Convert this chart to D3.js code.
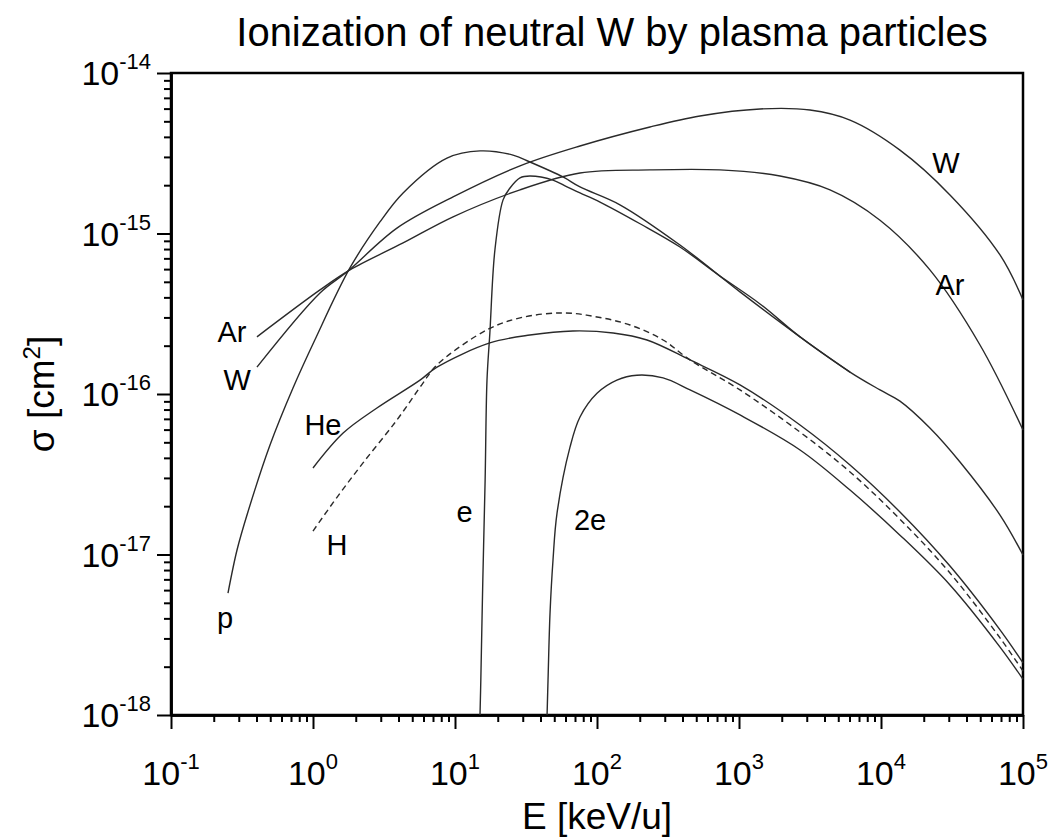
<!DOCTYPE html>
<html>
<head>
<meta charset="utf-8">
<script src="https://cdn.jsdelivr.net/npm/d3@7"></script>
<style>
  html, body { margin: 0; padding: 0; background: #fff; overflow: hidden; }
  svg { display: block; }
  text { font-family: "Liberation Sans", Arial, sans-serif; fill: #000; }
</style>
</head>
<body>
<div id="chart"></div>
<script>
// energy [keV/u] and cross section [cm^2] for each projectile
const pE = [0.252, 0.292, 0.348, 0.498, 0.723, 1.03, 1.82, 2.96, 4.31, 8.78, 15.0, 25.6, 33.7, 57.6, 75.9, 145, 384, 1016, 2690, 6050, 9840, 1.36e4, 2.21e4, 3.6e4, 6.89e4, 1e5];
const pS = [5.75e-18, 1.07e-17, 1.84e-17, 4.81e-17, 1.09e-16, 2.17e-16, 6.1e-16, 1.18e-15, 1.79e-15, 2.95e-15, 3.27e-15, 3.08e-15, 2.79e-15, 2.25e-15, 1.95e-15, 1.51e-15, 8.48e-16, 4.33e-16, 2.27e-16, 1.37e-16, 1.06e-16, 9.03e-17, 6.14e-17, 3.77e-17, 1.76e-17, 9.93e-18];

const eE = [15.0, 15.2, 15.7, 16.3, 16.8, 17.6, 19.1, 21.8, 24.4, 28.7, 33.7, 49.0, 61.5, 75.9, 105, 201, 384, 735, 1406, 2690, 6050];
const eS = [1e-18, 1.65e-18, 6.93e-18, 2.91e-17, 1.22e-16, 2.4e-16, 7.89e-16, 1.62e-15, 1.92e-15, 2.22e-15, 2.28e-15, 2.15e-15, 1.95e-15, 1.79e-15, 1.57e-15, 1.15e-15, 8.24e-16, 5.43e-16, 3.64e-16, 2.27e-16, 1.37e-16];

const wE = [0.403, 1.12, 1.73, 3.9, 9.69, 28.7, 75.9, 236, 531, 1406, 3162, 6050, 1.36e4, 3.06e4, 6.89e4, 1e5];
const wS = [1.47e-16, 4.26e-16, 5.75e-16, 1.08e-15, 1.69e-15, 2.64e-15, 3.51e-15, 4.61e-15, 5.4e-15, 5.97e-15, 5.88e-15, 5.09e-15, 3.31e-15, 1.74e-15, 7.35e-16, 3.86e-16];

const arE = [0.403, 1.12, 1.82, 4.31, 9.69, 28.7, 75.9, 236, 735, 1945, 4375, 9840, 2.21e4, 4.98e4, 1e5];
const arS = [2.27e-16, 4.45e-16, 5.93e-16, 8.73e-16, 1.27e-15, 1.87e-15, 2.38e-15, 2.49e-15, 2.49e-15, 2.28e-15, 1.87e-15, 1.21e-15, 5.93e-16, 2.02e-16, 5.97e-17];

const heE = [1.0, 1.63, 2.82, 5.67, 7.47, 17.6, 33.7, 67.7, 130, 225, 452, 1016, 2690, 6050, 1.36e4, 3.06e4, 6.89e4, 1e5];
const heS = [3.46e-17, 5.71e-17, 8.18e-17, 1.22e-16, 1.47e-16, 2.08e-16, 2.33e-16, 2.47e-16, 2.4e-16, 2.17e-16, 1.63e-16, 1.14e-16, 6.41e-17, 3.61e-17, 1.84e-17, 8.47e-18, 3.39e-18, 2.11e-18];

const hE = [1.0, 1.48, 2.25, 3.9, 5.95, 7.47, 16.8, 28.7, 57.6, 100, 171, 292, 452, 1016, 2690, 6050, 1.36e4, 3.06e4, 6.89e4, 1e5];
const hS = [1.4e-17, 2.28e-17, 3.72e-17, 6.89e-17, 1.17e-16, 1.52e-16, 2.51e-16, 2.98e-16, 3.2e-16, 3.02e-16, 2.69e-16, 2.17e-16, 1.63e-16, 1.06e-16, 5.79e-17, 3.27e-17, 1.66e-17, 7.67e-18, 3.02e-18, 1.88e-18];

const e2E = [44.5, 45.2, 46.7, 49.0, 52.3, 64.6, 75.9, 100, 138, 191, 292, 452, 1016, 2690, 6050, 1.36e4, 3.06e4, 6.89e4, 1e5];
const e2S = [1e-18, 1.65e-18, 4.33e-18, 9.25e-18, 1.81e-17, 4.68e-17, 7.19e-17, 1.01e-16, 1.22e-16, 1.31e-16, 1.26e-16, 1.06e-16, 7.4e-17, 4.48e-17, 2.52e-17, 1.32e-17, 6.46e-18, 2.65e-18, 1.67e-18];

// curve labels: text, energy, cross section (label centre)
const labelText = ["W", "Ar", "Ar", "W", "He", "H", "p", "e", "2e"];
const labelE = [2.87e4, 3.06e4, 0.269, 0.292, 1.175, 1.476, 0.24, 11.7, 89.3];
const labelS = [2.75e-15, 4.78e-16, 2.43e-16, 1.22e-16, 6.41e-17, 1.15e-17, 4.02e-18, 1.84e-17, 1.64e-17];

const xExp = ["-1", "0", "1", "2", "3", "4", "5"];
const yExp = ["-14", "-15", "-16", "-17", "-18"];

const width = 1056;
const height = 838;
const margin = {top: 73, right: 33, bottom: 123, left: 171};
const innerWidth = width - margin.left - margin.right;
const innerHeight = height - margin.top - margin.bottom;

const svg = d3.select("#chart")
    .append("svg")
    .attr("width", width)
    .attr("height", height);

svg.append("rect").attr("width", width).attr("height", height).attr("fill", "#fff");

svg.append("text")
    .text("Ionization of neutral W by plasma particles")
    .attr("x", 612)
    .attr("y", 46)
    .attr("text-anchor", "middle")
    .style("font-size", "40px");

const innerChart = svg.append("g")
    .attr("transform", `translate(${margin.left}, ${margin.top})`);

const xScale = d3.scaleLog().domain([1e-1, 1e5]).range([0, innerWidth]);
const yScale = d3.scaleLog().domain([1e-18, 1e-14]).range([innerHeight, 0]);

// frame
innerChart.append("rect")
    .attr("width", innerWidth)
    .attr("height", innerHeight)
    .attr("fill", "none")
    .attr("stroke", "#000")
    .attr("stroke-width", 2.5);

const isMajor = v => Math.abs(Math.log10(v) - Math.round(Math.log10(v))) < 1e-6;
const xMajor = xScale.ticks().filter(isMajor);
const yMajor = yScale.ticks().filter(isMajor).reverse();

//minor ticks first, then the long major ones
innerChart.append("g")
    .attr("class", "axis-x-minor")
    .attr("transform", `translate(0, ${innerHeight})`)
    .call(d3.axisBottom(xScale).tickValues(xScale.ticks().filter(v => !isMajor(v))).tickSize(7).tickSizeOuter(0).tickFormat(""));

innerChart.append("g")
    .attr("class", "axis-x")
    .attr("transform", `translate(0, ${innerHeight})`)
    .call(d3.axisBottom(xScale).tickValues(xMajor).tickSize(14).tickSizeOuter(0).tickFormat(""));

innerChart.append("g")
    .attr("class", "axis-y-minor")
    .call(d3.axisLeft(yScale).tickValues(yScale.ticks().filter(v => !isMajor(v))).tickSize(7).tickSizeOuter(0).tickFormat(""));

innerChart.append("g")
    .attr("class", "axis-y")
    .call(d3.axisLeft(yScale).tickValues(yMajor).tickSize(14).tickSizeOuter(0).tickFormat(""));

innerChart.selectAll(".domain").attr("stroke-width", 2.5);
innerChart.selectAll(".tick line").attr("stroke-width", 2);

// tick labels with superscript exponents
const xLab = innerChart.append("g")
    .selectAll("text")
    .data(xMajor)
    .join("text")
        .attr("x", d => xScale(d))
        .attr("y", innerHeight + 70)
        .attr("text-anchor", "middle")
        .style("font-size", "34px")
        .text("10");
xLab.append("tspan")
    .attr("dy", -16)
    .style("font-size", "22px")
    .text((d, i) => xExp[i]);

const yLab = innerChart.append("g")
    .selectAll("text")
    .data(yMajor)
    .join("text")
        .attr("x", -20)
        .attr("y", d => yScale(d) + 12)
        .attr("text-anchor", "end")
        .style("font-size", "34px")
        .text("10");
yLab.append("tspan")
    .attr("dy", -16)
    .style("font-size", "22px")
    .text((d, i) => yExp[i]);

// axis titles
svg.append("text")
    .attr("x", margin.left + innerWidth / 2)
    .attr("y", 829)
    .attr("text-anchor", "middle")
    .style("font-size", "37px")
    .text("E [keV/u]");

const yTitle = svg.append("text")
    .attr("transform", `translate(54, ${margin.top + innerHeight / 2}) rotate(-90)`)
    .attr("text-anchor", "middle")
    .style("font-size", "37px")
    .text("\u03C3 [cm");
yTitle.append("tspan").attr("dy", -14).style("font-size", "24px").text("2");
yTitle.append("tspan").attr("dy", 14).text("]");

// curves
const series = [
    {name: "p", E: pE, S: pS, dash: null},
    {name: "e", E: eE, S: eS, dash: null},
    {name: "W", E: wE, S: wS, dash: null},
    {name: "Ar", E: arE, S: arS, dash: null},
    {name: "He", E: heE, S: heS, dash: null},
    {name: "H", E: hE, S: hS, dash: "6,4"},
    {name: "2e", E: e2E, S: e2S, dash: null}
];

const lineGenerator = d3.line()
    .x(d => xScale(d[0]))
    .y(d => yScale(d[1]))
    .curve(d3.curveCatmullRom.alpha(0.5));

innerChart.append("g")
    .attr("class", "lines")
    .selectAll("path")
    .data(series)
    .join("path")
        .attr("d", d => lineGenerator(d.E.map((v, i) => [v, d.S[i]])))
        .attr("fill", "none")
        .attr("stroke", "#2a2a2a")
        .attr("stroke-width", 1.4)
        .attr("stroke-dasharray", d => d.dash);

innerChart.append("g")
    .selectAll("text")
    .data(labelText)
    .join("text")
        .attr("x", (d, i) => xScale(labelE[i]))
        .attr("y", (d, i) => yScale(labelS[i]))
        .attr("text-anchor", "middle")
        .attr("dominant-baseline", "central")
        .style("font-size", "29px")
        .text(d => d);
</script>
</body>
</html>
